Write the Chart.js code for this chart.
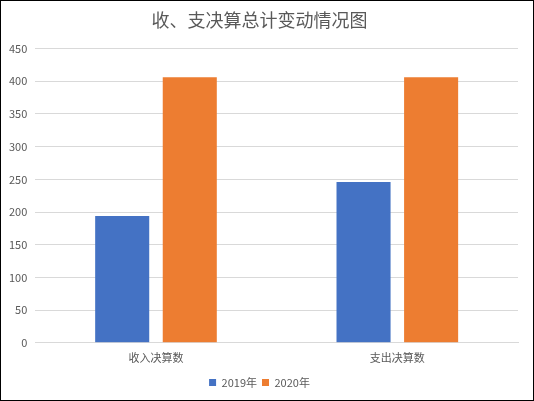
<!DOCTYPE html>
<html>
<head>
<meta charset="utf-8">
<script src="https://cdn.jsdelivr.net/npm/chart.js@4.4.0/dist/chart.umd.min.js"></script>
<style>
  body { margin: 0; background: #fff; }
  #box { width: 534px; height: 401px; border: 1px solid #000; box-sizing: border-box; position: relative; }
  #chart { display: block; }
</style>
</head>
<body>
<div id="box"><canvas id="chart" width="532" height="399"></canvas></div>
<script>
// chart data
var categories = ["收入决算数", "支出决算数"];
var seriesNames = ["2019年", "2020年"];
var values2019 = [194, 246];
var values2020 = [406, 406];
var chartTitle = "收、支决算总计变动情况图";

var font = "'Noto Sans CJK SC', 'Noto Sans', sans-serif";
var textColor = "#595959";

var ctx = document.getElementById("chart").getContext("2d");
var chart = new Chart(ctx, {
  type: "bar",
  data: {
    labels: categories,
    datasets: [
      {
        label: seriesNames[0],
        data: values2019,
        backgroundColor: "#4472C4",
        categoryPercentage: 0.56,
        barPercentage: 0.8,
      },
      {
        label: seriesNames[1],
        data: values2020,
        backgroundColor: "#ED7D31",
        categoryPercentage: 0.56,
        barPercentage: 0.8,
      },
    ],
  },
  options: {
    responsive: false,
    animation: false,
    layout: {
      padding: { left: 0, right: 15, top: 0, bottom: 2 },
    },
    plugins: {
      title: {
        display: true,
        text: chartTitle,
        color: textColor,
        font: { family: font, size: 18, weight: "normal" },
        padding: { top: 8, bottom: 18 },
      },
      legend: {
        position: "bottom",
        labels: {
          boxWidth: 7,
          boxHeight: 7,
          padding: 5,
          color: textColor,
          font: { family: font, size: 11 },
        },
      },
      tooltip: { enabled: false },
    },
    scales: {
      x: {
        grid: { display: false, drawTicks: false },
        border: { color: "#d9d9d9" },
        ticks: {
          color: textColor,
          padding: 8,
          font: { family: font, size: 11 },
        },
      },
      y: {
        min: 0,
        max: 450,
        ticks: {
          stepSize: 50,
          color: textColor,
          padding: 8,
          font: { family: font, size: 11 },
        },
        grid: { color: "#d9d9d9", drawTicks: false },
        border: { display: false },
      },
    },
  },
});
</script>
</body>
</html>
